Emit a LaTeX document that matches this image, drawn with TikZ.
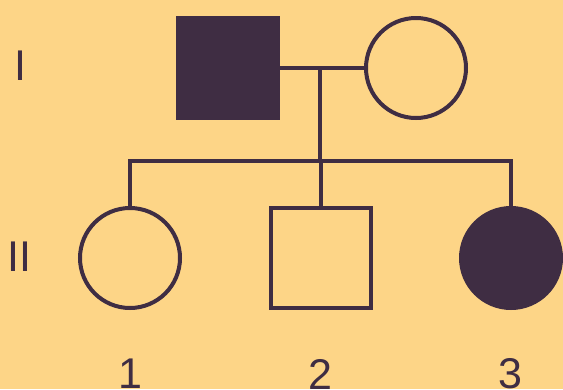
\documentclass[tikz,border=0pt]{standalone}
\usepackage{fontspec}
\setmainfont{Liberation Sans}
\usepackage{tikz}
\usetikzlibrary{positioning}

\definecolor{bgcol}{HTML}{FDD587}
\definecolor{inkcol}{HTML}{3F2D43}

\tikzset{
	male/.style={draw=inkcol, line width=4pt, rectangle, minimum size=100pt, inner sep=0pt},
	female/.style={draw=inkcol, line width=4pt, circle, minimum size=100pt, inner sep=0pt},
	affected/.style={fill=inkcol},
	gen/.style={text=inkcol, inner sep=0pt, font=\fontsize{43}{50}\selectfont},
	link/.style={draw=inkcol, line width=4pt}
}

\begin{document}
\begin{tikzpicture}[x=1pt, y=-1pt]
	\fill[bgcol] (0,0) rectangle (563,389);
	\useasboundingbox (0,0) rectangle (563,389);
	
	% generation I
	\node[male, affected] (f) at (228,68) {};
	\node[female] (m) at (416,68) {};
	
	% generation II
	\node[female] (c1) at (130,258) {};
	\node[male] (c2) at (321,258) {};
	\node[female, affected] (c3) at (511,258) {};
	
	\node[gen] (g1) at (20,66) {I};
	\node[gen] (g2) at (19,257) {II};
	
	\node[gen] (n1) at (130,374) {1};
	\node[gen] (n2) at (320,374) {2};
	\node[gen] (n3) at (510,374) {3};
	
	\coordinate (mid) at (320,68);
	\coordinate (sib) at (320,161);
	
	\path[link] (f.east) -- (m.west);
	\path[link] (mid) -- (sib);
	\path[link, line cap=rect] (c1 |- sib) -- (c3 |- sib);
	\path[link] (c1 |- sib) -- (c1.north);
	\path[link] (c2 |- sib) -- (c2.north);
	\path[link] (c3 |- sib) -- (c3.north);
\end{tikzpicture}
\end{document}
